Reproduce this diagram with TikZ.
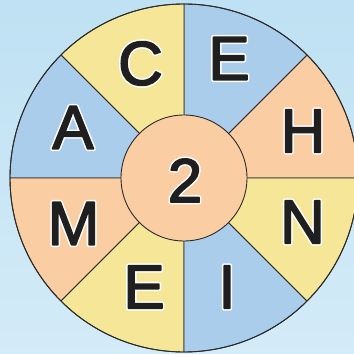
\documentclass[tikz,border=0pt]{standalone}
\usepackage{fontspec}
\setmainfont{Liberation Sans}
\newfontfamily\blackf{Liberation Sans}[FakeBold=2.5]
\newfontfamily\whitef{Liberation Sans}[FakeBold=7.5]
\definecolor{bgtop}{HTML}{BEE1F3}
\definecolor{bgbot}{HTML}{D4EBF8}
\definecolor{secY}{HTML}{F5E698}
\definecolor{secB}{HTML}{A9CDEB}
\definecolor{secO}{HTML}{FBCDA3}
\definecolor{edge}{HTML}{2A2A2A}
\newcommand{\outl}[4]{%
  \node[lett,font=\whitef\fontsize{62}{62}\selectfont,text=white] (#1w) at (#2,#3) {#4};%
  \node[lett] (#1) at (#2,#3) {#4};}
\begin{document}
\begin{tikzpicture}[x=1pt,y=1pt,
  lett/.style={inner sep=0pt,anchor=center,line join=round,font=\blackf\fontsize{62}{62}\selectfont,text=black!88},
  sect/.style={draw=edge,line width=0.9pt,line join=round}]
\useasboundingbox (0,0) rectangle (354,354);
\shade[top color=bgtop,bottom color=bgbot] (0,0) rectangle (354,354);
\coordinate (O) at (184,176);
\begin{scope}
\clip (0,0) rectangle (354,354);
\foreach \s/\c in {0/secO,45/secB,90/secY,135/secB,180/secO,225/secY,270/secB,315/secY}{
  \filldraw[sect,fill=\c] (O) -- ++(\s:174) arc[start angle=\s,end angle=\s+45,radius=174] -- cycle;
}
\draw[edge,line width=0.9pt] (O) circle[radius=174];
\end{scope}
\filldraw[sect,fill=secO] (O) circle[radius=63];
\outl{c}{140.5}{290.5}{C}
\outl{e1}{229}{295.5}{E}
\outl{a}{73}{226.5}{A}
\outl{h}{303}{223}{H}
\outl{m}{73.5}{130.5}{M}
\outl{n}{302.5}{132}{N}
\outl{e2}{144}{67}{E}
\outl{i}{227}{67}{I}
\outl{two}{185}{173.5}{2}
\end{tikzpicture}
\end{document}
